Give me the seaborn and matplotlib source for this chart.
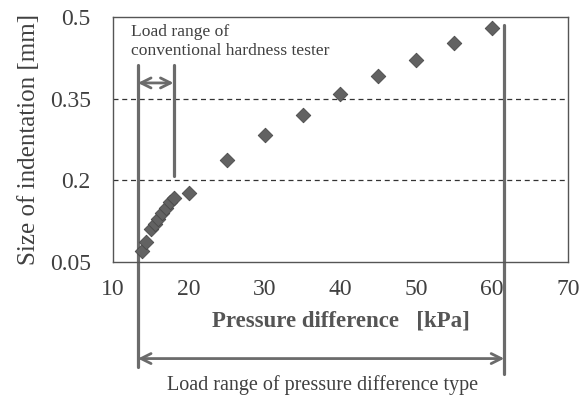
import pandas as pd
import matplotlib
matplotlib.use("Agg")
import matplotlib.pyplot as plt
import seaborn as sns

pressure_kpa = [13.8, 14.3, 15.0, 15.5, 16.0, 16.5, 17.0, 17.5, 18.0,
                20, 25, 30, 35, 40, 45, 50, 55, 60]
indent_mm = [0.070, 0.087, 0.110, 0.120, 0.130, 0.140, 0.150, 0.160, 0.168,
             0.177, 0.237, 0.283, 0.320, 0.359, 0.392, 0.421, 0.453, 0.480]

x_ticks = [10, 20, 30, 40, 50, 60, 70]
y_ticks = [0.05, 0.2, 0.35, 0.5]
y_ticklabels = ["0.05", "0.2", "0.35", "0.5"]
dashed_levels = [0.2, 0.35]

# Load range boundaries [kPa]
range_low = 13.3
conv_high = 18.0
diff_high = 61.6

df = pd.DataFrame({"Pressure": pressure_kpa, "Size": indent_mm})

sns.set_style("white")
plt.rcParams["font.family"] = ["Liberation Serif", "DejaVu Serif"]

fig = plt.figure(figsize=(5.79, 3.96), dpi=100)
ax = fig.add_axes([0.195, 0.338, 0.786, 0.619])

line_col = "#6b6b6b"
text_col = "#404040"

for lv in dashed_levels:
    ax.axhline(lv, color="#333333", lw=0.9, ls=(0, (4, 3)), zorder=1)

sns.scatterplot(data=df, x="Pressure", y="Size", marker="D", s=55,
                color="#626262", edgecolor="#4a4a4a", linewidth=0.6,
                ax=ax, zorder=3, legend=False)

# vertical boundary lines (extend below the axes)
ax.plot([range_low, range_low], [0.412, -0.143], color=line_col, lw=2.3, clip_on=False, zorder=2)
ax.plot([conv_high, conv_high], [0.412, 0.208], color=line_col, lw=2.3, clip_on=False, zorder=2)
ax.plot([diff_high, diff_high], [0.486, -0.155], color=line_col, lw=2.3, clip_on=False, zorder=2)

arrow = dict(arrowstyle="<->", color=line_col, lw=2.0, mutation_scale=18,
             shrinkA=0, shrinkB=0)
ax.annotate("", xy=(range_low, 0.379), xytext=(conv_high, 0.379),
            arrowprops=arrow, annotation_clip=False)
ax.annotate("", xy=(range_low, -0.127), xytext=(diff_high, -0.127),
            arrowprops=arrow, annotation_clip=False)

ax.text(12.4, 0.488, "Load range of\nconventional hardness tester",
        fontsize=12.6, color=text_col, va="top", ha="left", linespacing=1.3)
ax.text(37.6, -0.175, "Load range of pressure difference type",
        fontsize=14.5, color=text_col, va="center", ha="center")

ax.set_xlim(10, 70)
ax.set_ylim(0.05, 0.5)
ax.set_xticks(x_ticks)
ax.set_yticks(y_ticks)
ax.set_yticklabels(y_ticklabels)
ax.tick_params(axis="x", direction="in", length=6, width=1, color="#555555",
               pad=12, labelsize=17, labelcolor=text_col)
ax.tick_params(axis="y", length=0, pad=16, labelsize=17, labelcolor=text_col)

ax.set_xlabel("Pressure difference   [kPa]", fontsize=16.5, fontweight="bold",
              color="#555555", labelpad=8)
ax.set_ylabel("Size of indentation [mm]", fontsize=18, color=text_col, labelpad=7)

for sp in ax.spines.values():
    sp.set_color("#555555")
    sp.set_linewidth(1.0)

fig.savefig("out.png", dpi=100)
